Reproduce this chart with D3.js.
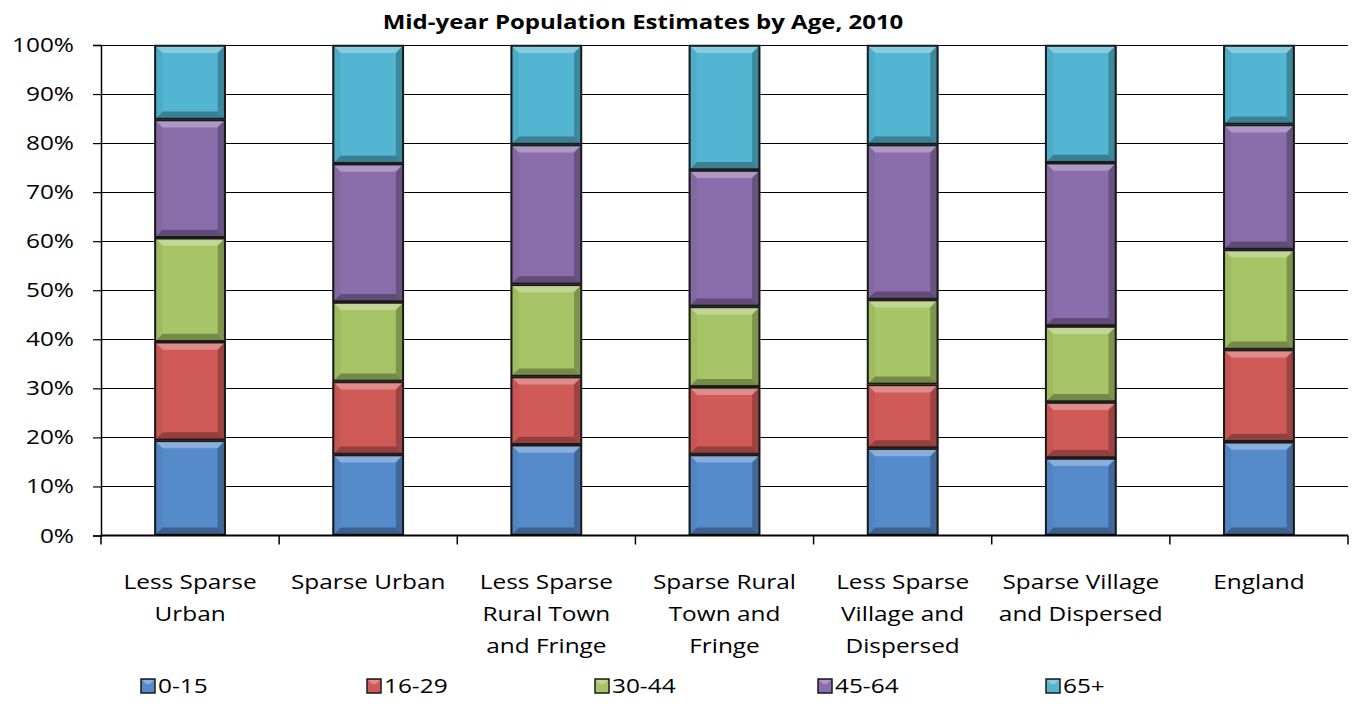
<!DOCTYPE html>
<html><head><meta charset="utf-8">
<script src="https://cdn.jsdelivr.net/npm/d3@7"></script>
<style>body{margin:0;background:#fff}svg{display:block}text{font-family:"Open Sans","Noto Sans","Liberation Sans",sans-serif;fill:#000}</style>
</head><body><svg id="c" width="1357" height="707"></svg>
<script>
const categories = ["Less Sparse Urban","Sparse Urban","Less Sparse Rural Town and Fringe","Sparse Rural Town and Fringe","Less Sparse Village and Dispersed","Sparse Village and Dispersed","England"];
const categoryLines = [["Less Sparse","Urban"],["Sparse Urban"],["Less Sparse","Rural Town","and Fringe"],["Sparse Rural","Town and","Fringe"],["Less Sparse","Village and","Dispersed"],["Sparse Village","and Dispersed"],["England"]];
const seriesNames = ["0-15","16-29","30-44","45-64","65+"];
const age0_15  = [19.4,16.5,18.5,16.5,17.8,15.8,19.1];
const age16_29 = [20.1,14.9,13.9,13.8,13.0,11.4,18.8];
const age30_44 = [21.2,16.2,18.8,16.4,17.3,15.5,20.4];
const age45_64 = [24.1,28.2,28.5,27.8,31.6,33.3,25.5];
const age65plus= [15.2,24.2,20.3,25.5,20.3,24.0,16.2];
const yTicks = [0,0.1,0.2,0.3,0.4,0.5,0.6,0.7,0.8,0.9,1.0];
const title = "Mid-year Population Estimates by Age, 2010";
const colors = ["#568BCB","#D05A57","#A7C567","#8A6DAB","#53B5D1"];

const series = [age0_15,age16_29,age30_44,age45_64,age65plus];
const svg = d3.select("#c");
const L=101,R=1348,T=45,B=535.5, SX=1.25;

const x = d3.scaleBand().domain(categories).range([L,R]).paddingInner(0.6).paddingOuter(0.3);
const y = d3.scaleLinear().domain([0,1]).range([B,T]);

function stext(g, tx, ty, str, anchor, size, weight, sx){
  return g.append("text").attr("transform",`translate(${tx},${ty}) scale(${sx||SX},1)`)
    .attr("text-anchor",anchor).style("font-size",size+"px").style("font-weight",weight||"normal").text(str);
}

// gridlines
svg.append("g").selectAll("line").data(yTicks.slice(1)).join("line")
  .attr("x1",L).attr("x2",R).attr("y1",d=>Math.round(y(d))+0.5).attr("y2",d=>Math.round(y(d))+0.5)
  .attr("stroke","#000").attr("stroke-width",1.2);

// y axis
const ya = svg.append("g").attr("transform",`translate(${L},0)`)
  .call(d3.axisLeft(y).tickValues(yTicks).tickSize(8).tickFormat(()=>""));
ya.select(".domain").attr("stroke","#000").attr("stroke-width",1.5);
ya.selectAll(".tick line").attr("stroke","#000").attr("stroke-width",1.2);
yTicks.forEach(t=>stext(svg,74,y(t)+7,d3.format(".0%")(t),"end",19.5));

// stacked data
const stack = categories.map((c,i)=>{let acc=0;return series.map((s,k)=>{const v=s[i]/100;const r={c,k,y0:acc,y1:acc+v};acc+=v;return r;});});

function shade(col,f){const c=d3.color(col);return f>0?d3.interpolateRgb(c,"#fff")(f):d3.interpolateRgb(c,"#000")(-f);}

const bars = svg.append("g");
stack.forEach(segs=>segs.forEach(s=>{
  const x0=x(s.c), w=x.bandwidth();
  const top=y(s.y1), bot=y(s.y0), h=bot-top;
  const b=Math.min(8,h/2,w/2);
  const col=colors[s.k];
  const g=bars.append("g");
  g.append("rect").attr("x",x0).attr("y",top).attr("width",w).attr("height",h).attr("fill",col);
  const P=(pts,f)=>g.append("polygon").attr("points",pts.map(p=>p.join(",")).join(" ")).attr("fill",shade(col,f));
  P([[x0,top],[x0+w,top],[x0+w-b,top+b],[x0+b,top+b]],0.3);
  P([[x0,bot],[x0+w,bot],[x0+w-b,bot-b],[x0+b,bot-b]],-0.3);
  P([[x0,top],[x0+b,top+b],[x0+b,bot-b],[x0,bot]],-0.05);
  P([[x0+w,top],[x0+w-b,top+b],[x0+w-b,bot-b],[x0+w,bot]],-0.25);
  g.append("rect").attr("x",x0+0.75).attr("y",top+0.75).attr("width",w-1.5).attr("height",h-1.5)
    .attr("fill","none").attr("stroke","#1a1a1a").attr("stroke-width",2);
}));

// x axis
const xa = svg.append("g").attr("transform",`translate(0,${B})`);
xa.append("line").attr("x1",L).attr("x2",R).attr("stroke","#000").attr("stroke-width",2);
const bounds = categories.map(c=>x(c)-x.step()*0.3); bounds.push(R);
xa.selectAll("line.t").data(bounds).join("line").attr("class","t")
  .attr("x1",d=>d).attr("x2",d=>d).attr("y1",0).attr("y2",9).attr("stroke","#000").attr("stroke-width",1.5);
categories.forEach((c,i)=>{
  categoryLines[i].forEach((ln,j)=>stext(svg,x(c)+x.bandwidth()/2,589+j*32,ln,"middle",19.5));
});

// title
stext(svg,643,29,title,"middle",20,"bold",1.2);

// legend
const legX=[141,367,595,818,1046];
seriesNames.forEach((n,k)=>{
  const lx=legX[k], ly=679;
  svg.append("rect").attr("x",lx).attr("y",ly).attr("width",14).attr("height",14).attr("fill",colors[k]).attr("stroke","#1a1a1a").attr("stroke-width",1.5);
  svg.append("polygon").attr("points",`${lx+1},${ly+1} ${lx+13},${ly+1} ${lx+9},${ly+5} ${lx+5},${ly+5}`).attr("fill",shade(colors[k],0.3));
  stext(svg,lx+17,ly+14,n,"start",19.5);
});
</script></body></html>
